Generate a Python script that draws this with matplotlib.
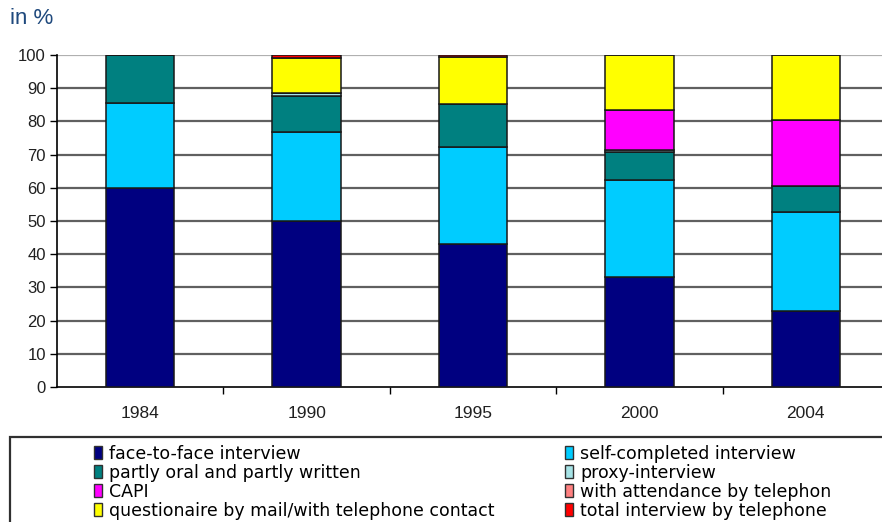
import matplotlib
matplotlib.use('Agg')
import matplotlib.pyplot as plt
from matplotlib.patches import Patch, Rectangle

# data (percent of interviews)
years = ['1984', '1990', '1995', '2000', '2004']
face_to_face = [60.0, 50.0, 43.0, 33.0, 23.0]
self_completed = [25.5, 26.9, 29.2, 29.3, 29.6]
partly_oral = [14.5, 10.8, 12.9, 8.5, 7.9]
proxy = [0.0, 0.8, 0.0, 0.6, 0.0]
capi = [0.0, 0.0, 0.0, 11.9, 19.8]
attendance_tel = [0.0, 0.0, 0.0, 0.0, 0.0]
mail_questionnaire = [0.0, 10.5, 14.3, 16.7, 19.7]
total_tel = [0.0, 1.0, 0.6, 0.0, 0.0]

series = [
    ('face-to-face interview', face_to_face, '#000080'),
    ('self-completed interview', self_completed, '#00CCFF'),
    ('partly oral and partly written', partly_oral, '#008080'),
    ('proxy-interview', proxy, '#A6E3E6'),
    ('CAPI', capi, '#FF00FF'),
    ('with attendance by telephon', attendance_tel, '#FF8080'),
    ('questionaire by mail/with telephone contact', mail_questionnaire, '#FFFF00'),
    ('total interview by telephone', total_tel, '#FF0000'),
]

plt.rcParams['font.family'] = ['Liberation Sans', 'DejaVu Sans']

fig = plt.figure(figsize=(8.82, 5.22), dpi=100)
ax = fig.add_axes([57/882, 1-387/522, 832/882, 332/522])

x = list(range(len(years)))
bottom = [0.0]*len(years)
for name, vals, col in series:
    ax.bar(x, vals, width=0.41, bottom=bottom, color=col, edgecolor='#181818', linewidth=1.1, zorder=3)
    bottom = [b+v for b, v in zip(bottom, vals)]

ax.set_xlim(-0.5, 4.5)
ax.set_ylim(0, 100)
ax.set_yticks(range(0, 101, 10))
ax.set_xticks(x)
ax.set_xticklabels(years, fontsize=12.5)
ax.set_xticks([i+0.5 for i in x[:-1]], minor=True)
ax.tick_params(axis='x', which='major', length=0, pad=14)
ax.tick_params(axis='x', which='minor', length=5, width=1, direction='out')
ax.tick_params(axis='y', length=5, width=1, direction='out', labelsize=12, pad=3)
for t in ax.get_yticklabels() + ax.get_xticklabels():
    t.set_color('#202020')

for v in range(10, 100, 10):
    ax.axhline(v, color='#606060', lw=1.6, zorder=1)
ax.axhline(100, color='#b0b0b0', lw=1.6, zorder=1)
for s in ['top', 'right']:
    ax.spines[s].set_visible(False)
ax.spines['left'].set_linewidth(1.2)
ax.spines['bottom'].set_linewidth(1.2)

fig.text(10/882, 1-19/522, 'in %', fontsize=16, color='#1F497D', va='center', ha='left')

# legend box
fig.patches.append(Rectangle((10/882, -0.05), 1.0, 1-437/522+0.05, transform=fig.transFigure,
                             fill=False, edgecolor='#303030', lw=1.6))

handles = [Patch(facecolor=col, edgecolor='#303030', lw=1.0) for _, _, col in series]
labels = [name for name, _, _ in series]
for col_i, xpos in enumerate([85, 556]):
    idx = [col_i + 2*r for r in range(4)]
    fig.legend([handles[i] for i in idx], [labels[i] for i in idx], loc='upper left',
               bbox_to_anchor=(xpos/882, 1-436/522), frameon=False, borderpad=0,
               handlelength=0.5, handleheight=0.75, handletextpad=0.4, labelspacing=0.06,
               prop={'family': 'DejaVu Sans', 'size': 12.5})

fig.savefig('out.png', dpi=100)
